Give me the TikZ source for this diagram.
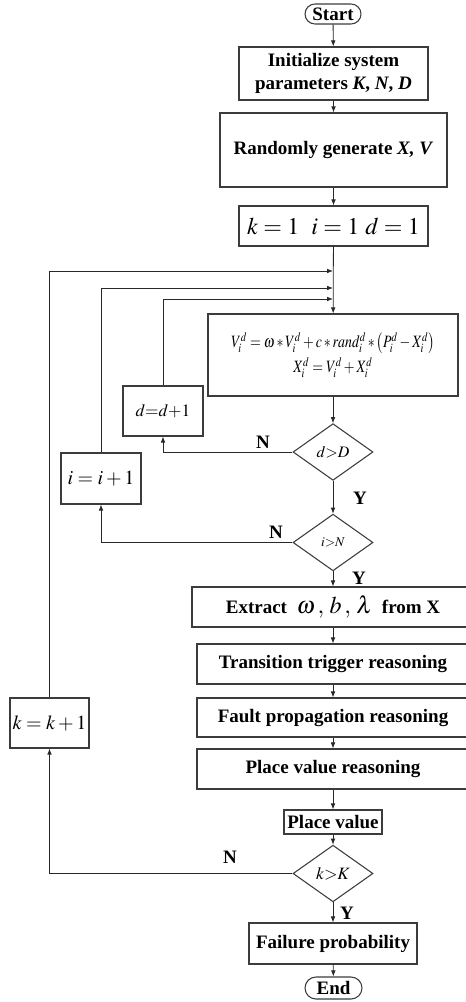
\documentclass[tikz,border=0pt]{standalone}
\usepackage{mathptmx}
\usepackage{fontspec}
\setmainfont{Liberation Serif}
\usepackage{xcolor}
\usetikzlibrary{shapes.geometric,shapes.misc,arrows.meta}

\definecolor{boxgray}{RGB}{60,60,60}
\definecolor{linegray}{RGB}{40,40,40}

\tikzset{
  proc/.style={draw=boxgray, line width=0.8pt, rectangle, inner sep=0pt, align=center,
    font=\fontsize{14.25}{17.5}\selectfont\bfseries},
  term/.style={draw=boxgray, line width=0.8pt, rounded rectangle, inner sep=0pt,
    font=\fontsize{14.25}{17}\selectfont\bfseries},
  decide/.style={draw=boxgray, line width=0.8pt, diamond, inner sep=0pt,
    minimum width=60pt, minimum height=42.5pt},
  flow/.style={draw=linegray, line width=0.6pt, -{Latex[length=4.5pt,width=3.5pt]}},
  yn/.style={font=\fontsize{14.25}{17}\selectfont\bfseries, inner sep=0pt}
}

\begin{document}
\begin{tikzpicture}[x=0.75pt,y=0.75pt,yscale=-1,xscale=1]
\useasboundingbox (0,0) rectangle (465,1002);

%Shape: Terminal
\node (start) at (333,14) [term, minimum width=42pt, minimum height=15pt] {Start};
%Shape: Rectangle
\node (init) at (333.5,73.5) [proc, minimum width=141.75pt, minimum height=39.75pt] {Initialize system\\parameters \textit{K}, \textit{N}, \textit{D}};
%Shape: Rectangle
\node (rand) at (333.5,150) [proc, minimum width=170.25pt, minimum height=55.5pt] {Randomly generate \textit{X, V}};
%Shape: Rectangle
\node (kinit) at (333.5,226) [proc, minimum width=141.75pt, minimum height=30pt, font=\fontsize{18}{20}\selectfont] {$k=1\ \ i=1\ d=1$};
%Shape: Rectangle
\node (update) at (333,355) [proc, minimum width=187.5pt, minimum height=61.5pt, font=\fontsize{13}{19}\selectfont] {\scalebox{0.8}[1]{$V_i^d=\omega*V_i^d+c*rand_i^d*\left(P_i^d-X_i^d\right)$}\\\scalebox{0.8}[1]{$X_i^d=V_i^d+X_i^d$}};
%Shape: Rectangle
\node (dinc) at (163,411) [proc, minimum width=60pt, minimum height=37.5pt, font=\fontsize{13}{15}\selectfont] {$d{=}d{+}1$};
%Shape: Diamond
\node (dchk) at (333,452) [decide, font=\fontsize{12}{14}\selectfont] {$d{>}D$};
%Shape: Rectangle
\node (iinc) at (101,478.5) [proc, minimum width=60pt, minimum height=38.25pt, font=\fontsize{15}{17}\selectfont] {$i=i+1$};
%Shape: Diamond
\node (ichk) at (333,542.5) [decide, font=\fontsize{10}{12}\selectfont] {$i{>}N$};
%Shape: Rectangle
\node (extract) at (333,607) [proc, minimum width=211.5pt, minimum height=30pt] {Extract \ {\fontsize{18}{20}\selectfont$\omega\,,\,b\,,\,\lambda$} \ from X};
%Shape: Rectangle
\node (trans) at (333,664) [proc, minimum width=204pt, minimum height=30pt] {Transition trigger reasoning};
%Shape: Rectangle
\node (fault) at (333,717.5) [proc, minimum width=204pt, minimum height=29.25pt] {Fault propagation reasoning};
%Shape: Rectangle
\node (preason) at (333,769) [proc, minimum width=204pt, minimum height=30pt] {Place value reasoning};
%Shape: Rectangle
\node (pvalue) at (333,822) [proc, minimum width=73.5pt, minimum height=18pt] {Place value};
%Shape: Diamond
\node (kchk) at (333,873.5) [decide, font=\fontsize{13}{15}\selectfont] {$k{>}K$};
%Shape: Rectangle
\node (kinc) at (49.5,723) [proc, minimum width=59.25pt, minimum height=37.5pt, font=\fontsize{15}{17}\selectfont] {$k=k+1$};
%Shape: Rectangle
\node (fail) at (333,943.5) [proc, minimum width=126pt, minimum height=30.75pt] {Failure probability};
%Shape: Terminal
\node (stop) at (333.5,988) [term, minimum width=42.75pt, minimum height=16.5pt] {End};

%Merge points
\coordinate (jk) at (333,271);
\coordinate (ji) at (333,288);
\coordinate (jd) at (333,299);

%Straight Lines
\draw [flow] (start) -- (init);
\draw [flow] (init) -- (rand);
\draw [flow] (rand) -- (kinit);
\draw [flow] (kinit) -- (update);
\draw [flow] (update) -- (dchk);
\draw [flow] (dchk) -- (ichk);
\draw [flow] (ichk) -- (extract);
\draw [flow] (extract) -- (trans);
\draw [flow] (trans) -- (fault);
\draw [flow] (fault) -- (preason);
\draw [flow] (preason) -- (pvalue);
\draw [flow] (pvalue) -- (kchk);
\draw [flow] (kchk) -- (fail);
\draw [flow] (fail) -- (stop);
%Loop Lines
\draw [flow] (dchk.west) -| (dinc.south);
\draw [flow] (dinc.north) |- (jd);
\draw [flow] (ichk.west) -| (iinc.south);
\draw [flow] (iinc.north) |- (ji);
\draw [flow] (kchk.west) -| (kinc.south);
\draw [flow] (kinc.north) |- (jk);

% Text Node
\node (nd) at (263,442) [yn] {N};
% Text Node
\node (yd) at (360,498) [yn] {Y};
% Text Node
\node (ni) at (276,532) [yn] {N};
% Text Node
\node (yi) at (359,578) [yn] {Y};
% Text Node
\node (nk) at (230,857) [yn] {N};
% Text Node
\node (yk) at (347,913) [yn] {Y};

\end{tikzpicture}
\end{document}
